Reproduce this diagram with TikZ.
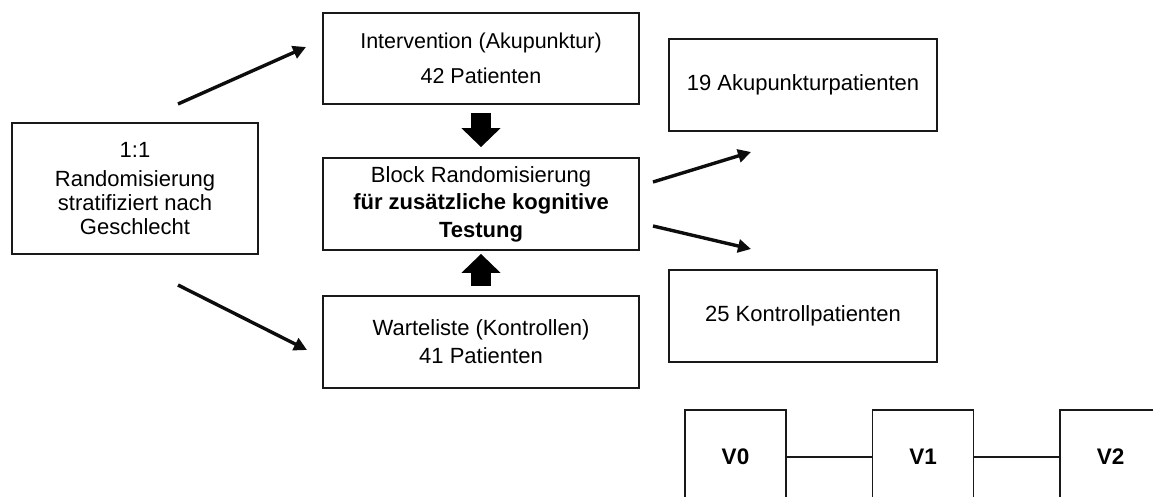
\documentclass[tikz,border=0pt]{standalone}
\usepackage{fontspec}
\setmainfont{Liberation Sans}
\usetikzlibrary{arrows.meta,calc}
\begin{document}
\begin{tikzpicture}[x=1pt,y=-1pt,
  box/.style={draw=black!90, line width=1.8pt, inner sep=0pt, align=center,
    font=\fontsize{22}{24}\selectfont},
  vbox/.style={box, minimum width=101pt, minimum height=94pt,
    font=\fontsize{22.5}{24}\selectfont\bfseries},
  thinarrow/.style={line width=3.4pt, black!95,
    -{Triangle[length=13pt,width=13pt]}},
  blockarrow/.style={line width=20pt, black,
    -{Triangle[length=19pt,width=38pt]}},
  link/.style={line width=1.6pt, black!90}]
\useasboundingbox (0,0) rectangle (1153,497);
\clip (0,0) rectangle (1153,497);

% study arms
\node[box, minimum width=246pt, minimum height=131pt] (rand) at (135,188.5)
  {1:1\\[5pt]Randomisierung\\stratifiziert nach\\Geschlecht};
\node[box, minimum width=316pt, minimum height=91pt,
  font=\fontsize{21.5}{35}\selectfont] (interv) at (481,58.5)
  {Intervention (Akupunktur)\\42 Patienten};
\node[box, minimum width=316pt, minimum height=92pt,
  font=\fontsize{22}{27.5}\selectfont] (block) at (481,204)
  {Block Randomisierung\\\textbf{für zusätzliche kognitive}\\\textbf{Testung}};
\node[box, minimum width=316pt, minimum height=92pt,
  font=\fontsize{22}{28}\selectfont] (wait) at (481,342)
  {Warteliste (Kontrollen)\\41 Patienten};

% cognitive testing subgroups
\node[box, minimum width=268pt, minimum height=92pt] (acu) at (803,85)
  {19 Akupunkturpatienten};
\node[box, minimum width=268pt, minimum height=92pt] (ctrl) at (803,316)
  {25 Kontrollpatienten};

% visits
\node[vbox] (v0) at (735.5,457) {V0};
\node[vbox] (v1) at (923,457) {V1};
\node[vbox] (v2) at (1110.5,457) {V2};
\draw[link] (v0.east) -- (v1.west);
\draw[link] (v1.east) -- (v2.west);

% allocation arrows
\coordinate (r1s) at (178,104);  \coordinate (r1e) at (306,47);
\coordinate (r2s) at (178,285);  \coordinate (r2e) at (307,350);
\coordinate (b1s) at (653,182);  \coordinate (b1e) at (751,152);
\coordinate (b2s) at (653,226);  \coordinate (b2e) at (751,249);
\draw[thinarrow] (r1s) -- (r1e);
\draw[thinarrow] (r2s) -- (r2e);
\draw[thinarrow] (b1s) -- (b1e);
\draw[thinarrow] (b2s) -- (b2e);

% block arrows into the block randomisation
\draw[blockarrow] ($(interv.south)+(0,8)$) -- ($(block.north)+(0,-10)$);
\draw[blockarrow] ($(wait.north)+(0,-9)$) -- ($(block.south)+(0,3)$);
\end{tikzpicture}
\end{document}
